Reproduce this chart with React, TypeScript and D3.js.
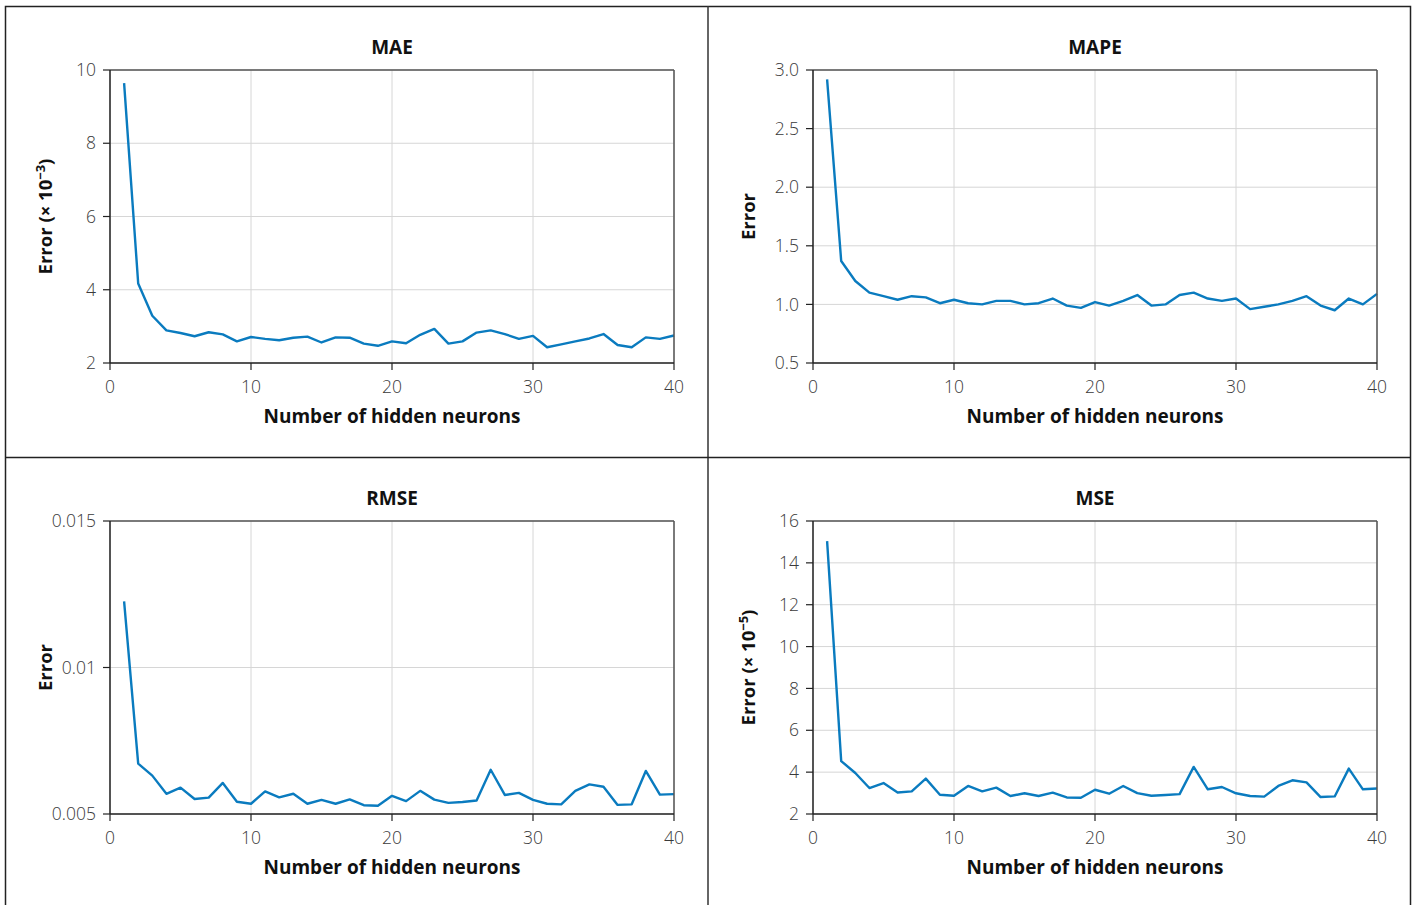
import React from 'react';
import * as d3 from 'd3';

const neurons = d3.range(1, 41);

const maeValues = [9.64, 4.17, 3.29, 2.89, 2.82, 2.73, 2.84, 2.78, 2.59, 2.71,
  2.66, 2.62, 2.69, 2.72, 2.56, 2.70, 2.69, 2.53, 2.47, 2.59,
  2.54, 2.77, 2.93, 2.53, 2.59, 2.83, 2.89, 2.79, 2.66, 2.74,
  2.43, 2.51, 2.59, 2.67, 2.79, 2.49, 2.43, 2.70, 2.66, 2.75];

const mapeValues = [2.92, 1.37, 1.20, 1.10, 1.07, 1.04, 1.07, 1.06, 1.01, 1.04,
  1.01, 1.00, 1.03, 1.03, 1.00, 1.01, 1.05, 0.99, 0.97, 1.02,
  0.99, 1.03, 1.08, 0.99, 1.00, 1.08, 1.10, 1.05, 1.03, 1.05,
  0.96, 0.98, 1.00, 1.03, 1.07, 0.99, 0.95, 1.05, 1.00, 1.09];

const rmseValues = [0.01226, 0.00672, 0.00631, 0.00569, 0.0059, 0.00551, 0.00556, 0.00606, 0.00542, 0.00535,
  0.00577, 0.00557, 0.00569, 0.00535, 0.00548, 0.00535, 0.0055, 0.0053, 0.00528, 0.00562,
  0.00544, 0.00579, 0.00549, 0.00538, 0.00541, 0.00546, 0.00651, 0.00565, 0.00572, 0.00548,
  0.00535, 0.00533, 0.00579, 0.00601, 0.00593, 0.00531, 0.00533, 0.00647, 0.00566, 0.00568];

const mseValues = [15.04, 4.53, 3.96, 3.24, 3.48, 3.03, 3.08, 3.69, 2.92, 2.87,
  3.34, 3.08, 3.26, 2.86, 2.99, 2.86, 3.02, 2.79, 2.78, 3.16,
  2.97, 3.34, 3.0, 2.87, 2.91, 2.95, 4.25, 3.18, 3.29, 2.99,
  2.86, 2.83, 3.34, 3.61, 3.51, 2.81, 2.84, 4.17, 3.18, 3.22];

const xTicks = [0, 10, 20, 30, 40];
const maeTicks = [2, 4, 6, 8, 10];
const mapeTicks = [0.5, 1.0, 1.5, 2.0, 2.5, 3.0];
const rmseTicks = [0.005, 0.01, 0.015];
const mseTicks = [2, 4, 6, 8, 10, 12, 14, 16];

const lineColor = '#0a7bbf';
const font = '"Open Sans", "Noto Sans", sans-serif';

type PanelProps = {
  left: number;
  top: number;
  title: string;
  values: number[];
  yTicks: number[];
  fmt: (d: number) => string;
  yLabel: string;
  yExp?: string;
};

function Panel({ left, top, title, values, yTicks, fmt, yLabel, yExp }: PanelProps) {
  const w = 564, h = 293;
  const x = d3.scaleLinear().domain([0, 40]).range([0, w]);
  const y = d3.scaleLinear().domain([yTicks[0], yTicks[yTicks.length - 1]]).range([h, 0]);
  const line = d3.line<number>()
    .x((d, i) => x(neurons[i]))
    .y(d => y(d));

  return (
    <g transform={`translate(${left},${top})`}>
      <text x={w / 2} y={-16} textAnchor="middle" fontFamily={font} fontWeight="bold" fontSize={19} fill="#111">{title}</text>
      {xTicks.map(t => (
        <line key={'gx' + t} x1={x(t)} x2={x(t)} y1={0} y2={h} stroke="#d6d6d6" strokeWidth={1} />
      ))}
      {yTicks.map(t => (
        <line key={'gy' + t} x1={0} x2={w} y1={y(t)} y2={y(t)} stroke="#d6d6d6" strokeWidth={1} />
      ))}
      <path d={line(values) || ''} fill="none" stroke={lineColor} strokeWidth={2.4} strokeLinejoin="round" />
      <line x1={0} x2={w} y1={0} y2={0} stroke="#555" strokeWidth={1.5} />
      <line x1={w} x2={w} y1={0} y2={h} stroke="#555" strokeWidth={1.5} />
      <line x1={0} x2={0} y1={0} y2={h} stroke="#222" strokeWidth={1.5} />
      <line x1={0} x2={w} y1={h} y2={h} stroke="#222" strokeWidth={1.5} />
      {xTicks.map(t => (
        <g key={'tx' + t} transform={`translate(${x(t)},${h})`}>
          <line y1={0} y2={7} stroke="#222" strokeWidth={1.2} />
          <text y={30} textAnchor="middle" fontFamily={font} fontWeight={300} fontSize={17.5} fill="#3a3a3a">{t}</text>
        </g>
      ))}
      {yTicks.map(t => (
        <g key={'ty' + t} transform={`translate(0,${y(t)})`}>
          <line x1={-7} x2={0} stroke="#222" strokeWidth={1.2} />
          <text x={-14} dy="0.35em" textAnchor="end" fontFamily={font} fontWeight={300} fontSize={17.5} fill="#3a3a3a">{fmt(t)}</text>
        </g>
      ))}
      <text x={w / 2} y={h + 60} textAnchor="middle" fontFamily={font} fontWeight="bold" fontSize={19} fill="#111">Number of hidden neurons</text>
      <text transform={`translate(-58,${h / 2}) rotate(-90)`} textAnchor="middle" fontFamily={font} fontWeight="bold" fontSize={18.5} fill="#111">
        {yLabel}
        {yExp && (
          <>
            <tspan dy={-7} fontSize={13}>{yExp}</tspan>
            <tspan dy={7}>)</tspan>
          </>
        )}
      </text>
    </g>
  );
}

export default function App() {
  return (
    <svg width={1415} height={905} style={{ position: 'absolute', left: 0, top: 0, background: '#fff' }}>
      <rect x={5.5} y={6.5} width={1405} height={910} fill="none" stroke="#222" strokeWidth={1.5} />
      <line x1={708} x2={708} y1={6} y2={905} stroke="#333" strokeWidth={1.5} />
      <line x1={5} x2={1411} y1={457.5} y2={457.5} stroke="#222" strokeWidth={1.5} />
      <Panel left={110} top={70} title="MAE" values={maeValues} yTicks={maeTicks} fmt={d => String(d)} yLabel="Error (× 10" yExp="−3" />
      <Panel left={813} top={70} title="MAPE" values={mapeValues} yTicks={mapeTicks} fmt={d3.format('.1f')} yLabel="Error" />
      <Panel left={110} top={521} title="RMSE" values={rmseValues} yTicks={rmseTicks} fmt={d => String(d)} yLabel="Error" />
      <Panel left={813} top={521} title="MSE" values={mseValues} yTicks={mseTicks} fmt={d => String(d)} yLabel="Error (× 10" yExp="−5" />
    </svg>
  );
}
